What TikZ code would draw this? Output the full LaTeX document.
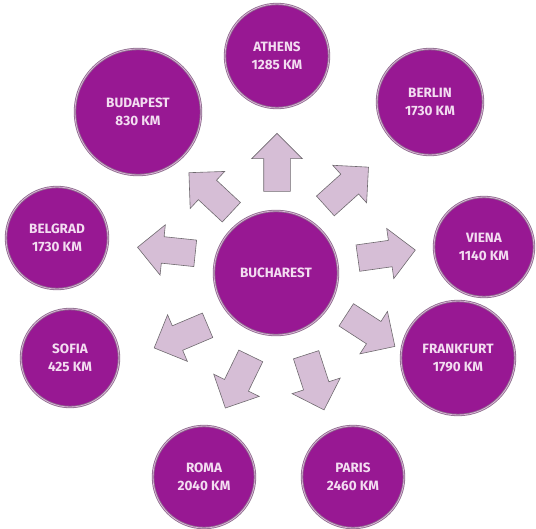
\documentclass[tikz,border=0pt]{standalone}
\usepackage{fontspec}
\setmainfont{Fira Sans}
\usetikzlibrary{shapes.arrows}

\definecolor{cityfill}{HTML}{981893}
\definecolor{cityrim}{HTML}{8C6E8C}
\definecolor{cityglow}{HTML}{DDB2DA}
\definecolor{citytext}{HTML}{F3DDF1}
\definecolor{arrowfill}{HTML}{D6BED6}
\definecolor{arrowrim}{HTML}{6F6A6F}

\tikzset{
  city/.style={circle,fill=cityfill,draw=cityrim,double=cityglow,double distance=0.8pt,
    line width=0.8pt,text=citytext,font=\bfseries\fontsize{13.5}{18}\selectfont,
    align=center,inner sep=0pt},
  pointer/.style={single arrow,fill=arrowfill,draw=arrowrim,line width=0.6pt,
    inner xsep=0pt,inner ysep=13pt,minimum height=58pt,
    single arrow head extend=12pt}
}

\begin{document}
\begin{tikzpicture}[x=1pt,y=-1pt]
\useasboundingbox (0,0) rectangle (536,528);

% centre
\node[city,minimum size=124pt] (buch) at (276,273) {BUCHAREST};

% cities round it
\node[city,minimum size=104pt] (ath) at (277,56) {ATHENS\\1285 KM};
\node[city,minimum size=126pt] (bud) at (138,112) {BUDAPEST\\830 KM};
\node[city,minimum size=106pt] (ber) at (430,102) {BERLIN\\1730 KM};
\node[city,minimum size=100pt] (vie) at (484,247) {VIENA\\1140 KM};
\node[city,minimum size=102pt] (bel) at (57,238) {BELGRAD\\1730 KM};
\node[city,minimum size=98pt] (sof) at (70,358) {SOFIA\\425 KM};
\node[city,minimum size=114pt] (fra) at (458,358) {FRANKFURT\\1790 KM};
\node[city,minimum size=102pt] (rom) at (204,477) {ROMA\\2040 KM};
\node[city,minimum size=102pt] (par) at (353,477) {PARIS\\2460 KM};

% arrows out of the centre
\node[pointer,rotate=90] (toath) at (277,169) {};
\node[pointer,rotate=137] (tobud) at (215,197) {};
\node[pointer,rotate=42] (tober) at (342,191) {};
\node[pointer,rotate=174] (tobel) at (173,251) {};
\node[pointer,rotate=8] (tovie) at (380,255) {};
\node[pointer,rotate=203] (tosof) at (187,334) {};
\node[pointer,rotate=-33] (tofra) at (365,327) {};
\node[pointer,rotate=-116] (torom) at (241,376) {};
\node[pointer,rotate=-72] (topar) at (313,376) {};
\end{tikzpicture}
\end{document}
